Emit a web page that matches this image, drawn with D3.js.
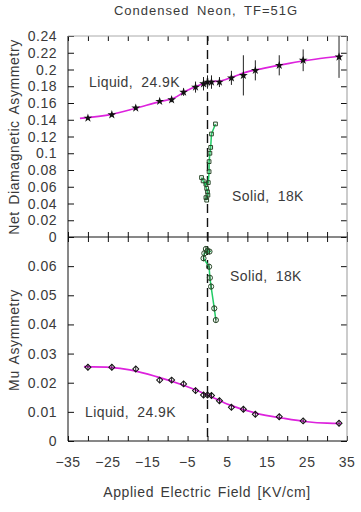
<!DOCTYPE html>
<html>
  <head>
    <script src="https://d3js.org/d3.v7.min.js" charset="utf-8"></script>
    <style type="text/css">
    body { margin: 0; background: #fff; }
    text { font-family: "Liberation Sans", Arial, sans-serif; fill: #3a3a3a; }
    .tick-label { font-size: 14px; letter-spacing: 0.5px; }
    .axis-title { font-size: 14px; letter-spacing: 0.6px; word-spacing: 2px; }
    .note { font-size: 14px; letter-spacing: 0.4px; word-spacing: 4px; }
    </style>
  </head>
  <body>
  <script type="text/javascript">

  // liquid neon, 24.9K (both panels measured at the same fields)
  var fieldLiq = [-30, -24, -18, -12, -9, -6, -3, -1, 0, 1, 3, 6, 9, 12, 18, 24, 33];
  var diaLiq = [0.142, 0.146, 0.154, 0.162, 0.164, 0.173, 0.179, 0.183, 0.185, 0.185, 0.185, 0.190, 0.193, 0.199, 0.205, 0.211, 0.215];
  var diaLiqErr = [0.002, 0.002, 0.002, 0.002, 0.003, 0.0045, 0.0066, 0.008, 0.008, 0.008, 0.006, 0.0084, 0.024, 0.012, 0.012, 0.013, 0.025];
  var muLiq = [0.0253, 0.0253, 0.0247, 0.0209, 0.0209, 0.0196, 0.0173, 0.0158, 0.0158, 0.0156, 0.0138, 0.0116, 0.0109, 0.0092, 0.0083, 0.0069, 0.0061];
  var muLiqErr = [0.001, 0.001, 0.001, 0.001, 0.001, 0.001, 0.001, 0.001, 0.001, 0.001, 0.001, 0.001, 0.001, 0.001, 0.001, 0.001, 0.001];

  // fit curves (magenta)
  var fitDiaE = [-32, -24, -18, -12, -8.5, -5.5, -2.5, 0, 3.5, 6.5, 9.5, 14, 20.5, 27, 33.5];
  var fitDia = [0.1417, 0.1465, 0.1537, 0.1616, 0.1656, 0.1740, 0.1805, 0.1850, 0.1866, 0.1914, 0.1966, 0.2014, 0.2074, 0.2122, 0.2161];
  var fitMuE = [-31, -24, -19.5, -12.8, -6.2, 0, 5.5, 12.3, 19, 25, 30, 33.5];
  var fitMu = [0.0255, 0.0252, 0.0244, 0.0221, 0.0192, 0.0158, 0.0124, 0.0095, 0.0078, 0.0066, 0.0061, 0.0060];

  // solid neon, 18K
  var fieldSolTop = [2.0, 1.0, 0.8, 0.6, 0.4, 0.4, 0.2, -0.4, -1.1, -1.5, -0.2, 0.0, 0.1, -0.4, -0.2];
  var diaSol = [0.135, 0.123, 0.107, 0.100, 0.090, 0.078, 0.065, 0.063, 0.067, 0.071, 0.058, 0.054, 0.050, 0.047, 0.044];
  var fieldSolBot = [-0.4, 0.0, 0.5, -0.8, -1.0, 0.4, 0.6, 0.9, 1.7, 2.1];
  var muSol = [0.0659, 0.0652, 0.0650, 0.0644, 0.0627, 0.0598, 0.0560, 0.0530, 0.0455, 0.0415];
  var muSolErr = [0.001, 0.001, 0.001, 0.001, 0.001, 0.001, 0.001, 0.001, 0.001, 0.001];

  var xTicks = [-35, -25, -15, -5, 5, 15, 25, 35];
  var diaTicks = [0, 0.02, 0.04, 0.06, 0.08, 0.1, 0.12, 0.14, 0.16, 0.18, 0.2, 0.22, 0.24];
  var muTicks = [0, 0.01, 0.02, 0.03, 0.04, 0.05, 0.06];

  var W = 361, H = 512;
  var pLeft = 68, pRight = 347, pTop = 36, pMid = 237, pBottom = 441;

  var svg = d3.select("body").append("svg").attr("width", W).attr("height", H);

  var x = d3.scaleLinear().domain([-35, 35]).range([pLeft, pRight]);
  var yTop = d3.scaleLinear().domain([0, 0.24]).range([pMid, pTop]);
  var yBot = d3.scaleLinear().domain([0, 0.07]).range([pBottom, pMid]);

  var fmt = function(d) { return d === 0 ? "0" : String(d); };

  // frame + ticks for one panel
  function panel(y, ticks, y0, y1) {
    var g = svg.append("g");
    // inward ticks on every side
    g.append("g").attr("transform", "translate(" + pLeft + ",0)")
      .call(d3.axisRight(y).tickValues(ticks).tickSize(6).tickFormat(""));
    g.append("g").attr("transform", "translate(" + pRight + ",0)")
      .call(d3.axisLeft(y).tickValues(ticks).tickSize(6).tickFormat(""));
    g.append("g").attr("transform", "translate(0," + y1 + ")")
      .call(d3.axisTop(x).ticks(14).tickSize(5).tickFormat(""));
    g.append("g").attr("transform", "translate(0," + y0 + ")")
      .call(d3.axisBottom(x).ticks(14).tickSize(5).tickFormat(""));
    g.selectAll(".domain").remove();
    g.selectAll(".tick line").attr("stroke", "#111");
    // tick labels
    g.selectAll("text.ylab").data(ticks).enter().append("text")
      .attr("class", "tick-label")
      .attr("x", pLeft - 11).attr("y", function(d) { return y(d) + 5; })
      .attr("text-anchor", "end").text(fmt);
    // frame
    g.append("line").attr("x1", pLeft).attr("x2", pLeft).attr("y1", y0).attr("y2", y1).attr("stroke", "#111");
    g.append("line").attr("x1", pRight).attr("x2", pRight).attr("y1", y0).attr("y2", y1).attr("stroke", "#999");
    g.append("line").attr("x1", pLeft).attr("x2", pRight).attr("y1", y1).attr("y2", y1).attr("stroke", "#111");
    return g;
  }

  panel(yTop, diaTicks, pTop, pMid);
  panel(yBot, muTicks, pMid, pBottom);
  svg.append("line").attr("x1", pLeft).attr("x2", pRight).attr("y1", pTop).attr("y2", pTop).attr("stroke", "#aaa");

  // x tick labels
  svg.selectAll("text.xlab").data(xTicks).enter().append("text")
    .attr("class", "tick-label")
    .attr("x", function(d) { return x(d); }).attr("y", 467)
    .attr("text-anchor", "middle")
    .text(function(d) { return d < 0 ? "\u2212" + Math.abs(d) : d; });

  // dashed zero-field line
  svg.append("line").attr("x1", x(0)).attr("x2", x(0)).attr("y1", pTop).attr("y2", pBottom)
    .attr("stroke", "#111").attr("stroke-width", 1.4).attr("stroke-dasharray", "9,5");

  var magenta = "#dd22dd", green = "#22cc66";

  // fit curves
  var fitLine = function(ys) {
    return d3.line().x(function(d) { return x(d[0]); }).y(function(d) { return ys(d[1]); })
      .curve(d3.curveMonotoneX);
  };
  svg.append("path").datum(d3.zip(fitDiaE, fitDia)).attr("d", fitLine(yTop))
    .attr("fill", "none").attr("stroke", magenta).attr("stroke-width", 1.7);
  svg.append("path").datum(d3.zip(fitMuE, fitMu)).attr("d", fitLine(yBot))
    .attr("fill", "none").attr("stroke", magenta).attr("stroke-width", 1.7);

  // error bars
  function errBars(xs, vs, es, ys, col) {
    svg.append("g").selectAll("line").data(d3.zip(xs, vs, es)).enter().append("line")
      .attr("x1", function(d) { return x(d[0]); }).attr("x2", function(d) { return x(d[0]); })
      .attr("y1", function(d) { return ys(d[1] - d[2]); }).attr("y2", function(d) { return ys(d[1] + d[2]); })
      .attr("stroke", col).attr("stroke-width", 1);
  }
  errBars(fieldLiq, diaLiq, diaLiqErr, yTop, "#222");
  errBars(fieldLiq, muLiq, muLiqErr, yBot, "#222");

  // liquid markers
  svg.append("g").selectAll("path").data(d3.zip(fieldLiq, diaLiq)).enter().append("path")
    .attr("transform", function(d) { return "translate(" + x(d[0]) + "," + yTop(d[1]) + ")"; })
    .attr("d", d3.symbol().type(d3.symbolStar).size(24))
    .attr("fill", "#111");
  svg.append("g").selectAll("path").data(d3.zip(fieldLiq, muLiq)).enter().append("path")
    .attr("transform", function(d) { return "translate(" + x(d[0]) + "," + yBot(d[1]) + ") rotate(45)"; })
    .attr("d", d3.symbol().type(d3.symbolSquare).size(18))
    .attr("fill", "none").attr("stroke", "#111").attr("stroke-width", 1);

  // solid: green connecting lines + open markers
  var solLine = function(ys) {
    return d3.line().x(function(d) { return x(d[0]); }).y(function(d) { return ys(d[1]); });
  };
  svg.append("path").datum(d3.zip(fieldSolTop, diaSol)).attr("d", solLine(yTop))
    .attr("fill", "none").attr("stroke", green).attr("stroke-width", 1.5);
  svg.append("g").selectAll("path").data(d3.zip(fieldSolTop, diaSol)).enter().append("path")
    .attr("transform", function(d) { return "translate(" + x(d[0]) + "," + yTop(d[1]) + ")"; })
    .attr("d", d3.symbol().type(d3.symbolSquare).size(14))
    .attr("fill", "none").attr("stroke", "#2a4a2a").attr("stroke-width", 1);

  svg.append("path").datum(d3.zip(fieldSolBot, muSol)).attr("d", solLine(yBot))
    .attr("fill", "none").attr("stroke", green).attr("stroke-width", 1.5);
  errBars(fieldSolBot, muSol, muSolErr, yBot, "#2a4a2a");
  svg.append("g").selectAll("circle").data(d3.zip(fieldSolBot, muSol)).enter().append("circle")
    .attr("cx", function(d) { return x(d[0]); }).attr("cy", function(d) { return yBot(d[1]); })
    .attr("r", 2.6).attr("fill", "none").attr("stroke", "#2a4a2a").attr("stroke-width", 1);

  // annotations
  svg.append("text").attr("class", "note").attr("x", 89).attr("y", 87).text("Liquid, 24.9K");
  svg.append("text").attr("class", "note").attr("x", 232).attr("y", 201).text("Solid, 18K");
  svg.append("text").attr("class", "note").attr("x", 230).attr("y", 281).text("Solid, 18K");
  svg.append("text").attr("class", "note").attr("x", 85).attr("y", 417).text("Liquid, 24.9K");

  // titles
  svg.append("text").attr("x", 206).attr("y", 15).attr("text-anchor", "middle")
    .style("font-size", "13px").style("letter-spacing", "1px").style("word-spacing", "3px")
    .text("Condensed Neon, TF=51G");
  svg.append("text").attr("class", "axis-title").attr("x", 207).attr("y", 497)
    .attr("text-anchor", "middle").text("Applied Electric Field [KV/cm]");
  svg.append("text").attr("class", "axis-title").attr("text-anchor", "middle")
    .attr("transform", "translate(19,137) rotate(-90)").text("Net Diamagnetic Asymmetry");
  svg.append("text").attr("class", "axis-title").attr("text-anchor", "middle")
    .attr("transform", "translate(19,340) rotate(-90)").text("Mu Asymmetry");

  </script>
  </body>
</html>
